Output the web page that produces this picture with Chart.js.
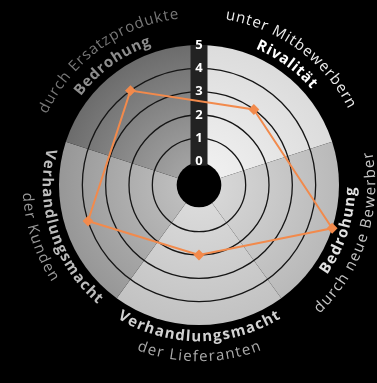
<!DOCTYPE html>
<html>
<head>
<meta charset="utf-8">
<script src="https://cdn.jsdelivr.net/npm/chart.js@4.4.1/dist/chart.umd.min.js"></script>
<style>
  html, body { margin: 0; padding: 0; background: #000; }
  #chart { display: block; }
</style>
</head>
<body>
<canvas id="chart" width="377" height="383"></canvas>
<script>
// Daten: die fünf Wettbewerbskräfte nach Porter
const kategorien = ['Rivalität unter Mitbewerbern', 'Bedrohung durch neue Bewerber', 'Verhandlungsmacht der Lieferanten', 'Verhandlungsmacht der Kunden', 'Bedrohung durch Ersatzprodukte'];
const titel = ['Rivalität', 'Bedrohung', 'Verhandlungsmacht', 'Verhandlungsmacht', 'Bedrohung'];
const untertitel = ['unter Mitbewerbern', 'durch neue Bewerber', 'der Lieferanten', 'der Kunden', 'durch Ersatzprodukte'];
const werte = [3, 5, 2, 4, 4];
const tickLabels = ['0', '1', '2', '3', '4', '5'];

// Farben der Segmente (innen -> außen) und der Beschriftung
const segmentInnen = ['#efefef', '#d6d6d6', '#dadada', '#bdbdbd', '#a2a2a2'];
const segmentAussen = ['#dcdcdc', '#b9b9b9', '#c2c2c2', '#979797', '#6c6c6c'];
const titelFarbe = ['#ffffff', '#e2e2e2', '#d2d2d2', '#bdbdbd', '#8e8e8e'];
const untertitelFarbe = ['#ececec', '#c6c6c6', '#ababab', '#9a9a9a', '#777777'];
const unten = [false, true, true, true, false];

// Text entlang eines Kreisbogens
function bogenText(ctx, text, cx, cy, radius, mitte, umgedreht, abstand) {
    const zeichen = [...text];
    const breiten = zeichen.map(z => ctx.measureText(z).width);
    const gesamt = breiten.reduce((a, b) => a + b, 0) + abstand * (zeichen.length - 1);
    const dir = umgedreht ? -1 : 1;
    let a = mitte - dir * gesamt / (2 * radius);
    zeichen.forEach((z, k) => {
        const w = breiten[k];
        const ac = a + dir * w / (2 * radius);
        ctx.save();
        ctx.translate(cx + radius * Math.cos(ac), cy + radius * Math.sin(ac));
        ctx.rotate(ac + (umgedreht ? -Math.PI / 2 : Math.PI / 2));
        ctx.fillText(z, 0, 0);
        ctx.restore();
        a += dir * (w + abstand) / radius;
    });
}

const fuenfKraefte = {
    id: 'fuenfKraefte',
    beforeDraw(chart) {
        const { ctx } = chart;
        const r = chart.scales.r;
        const cx = r.xCenter, cy = r.yCenter;
        const aussen = r.getDistanceFromCenterForValue(r.max);
        const innen = r.getDistanceFromCenterForValue(0);
        const schritt = 2 * Math.PI / kategorien.length;

        ctx.save();
        ctx.fillStyle = '#000';
        ctx.fillRect(0, 0, chart.width, chart.height);

        kategorien.forEach((k, i) => {
            const mitte = r.getIndexAngle(i) - Math.PI / 2;
            const grad = ctx.createRadialGradient(cx, cy, innen, cx, cy, aussen);
            grad.addColorStop(0, segmentInnen[i]);
            grad.addColorStop(1, segmentAussen[i]);
            ctx.fillStyle = grad;
            ctx.beginPath();
            ctx.moveTo(cx, cy);
            ctx.arc(cx, cy, aussen, mitte - schritt / 2, mitte + schritt / 2);
            ctx.closePath();
            ctx.fill();
        });

        // Loch in der Mitte
        ctx.fillStyle = '#000';
        ctx.beginPath();
        ctx.arc(cx, cy, innen - 1, 0, 2 * Math.PI);
        ctx.fill();
        ctx.restore();
    },
    beforeDatasetsDraw(chart) {
        const { ctx } = chart;
        const r = chart.scales.r;
        const cx = r.xCenter, cy = r.yCenter;
        const aussen = r.getDistanceFromCenterForValue(r.max);
        const innen = r.getDistanceFromCenterForValue(0);

        ctx.save();
        ctx.fillStyle = '#222';
        ctx.fillRect(cx - 8.5, cy - aussen, 17, aussen - innen + 4);

        ctx.fillStyle = '#fff';
        ctx.font = 'bold 13px "Open Sans"';
        ctx.textAlign = 'center';
        ctx.textBaseline = 'middle';
        tickLabels.forEach(t => {
            const d = r.getDistanceFromCenterForValue(Number(t));
            ctx.fillText(t, cx, cy - d);
        });
        ctx.restore();
    },
    afterDraw(chart) {
        const { ctx } = chart;
        const r = chart.scales.r;
        const cx = r.xCenter, cy = r.yCenter;

        ctx.save();
        ctx.textAlign = 'center';
        ctx.textBaseline = 'middle';
        kategorien.forEach((k, i) => {
            const mitte = r.getIndexAngle(i) - Math.PI / 2;
            ctx.font = 'bold 15px "Open Sans"';
            ctx.fillStyle = titelFarbe[i];
            bogenText(ctx, titel[i], cx, cy, 152, mitte, unten[i], 1);
            ctx.font = '15px "Open Sans"';
            ctx.fillStyle = untertitelFarbe[i];
            bogenText(ctx, untertitel[i], cx, cy, 172, mitte, unten[i], 1.2);
        });
        ctx.restore();
    }
};

new Chart(document.getElementById('chart'), {
    type: 'radar',
    data: {
        labels: kategorien,
        datasets: [{
            data: werte,
            borderColor: '#f28a4c',
            backgroundColor: '#f28a4c',
            borderWidth: 2,
            fill: false,
            pointStyle: 'rectRot',
            pointRadius: 4,
            pointHoverRadius: 4
        }]
    },
    options: {
        responsive: false,
        animation: false,
        layout: { padding: { left: 59, right: 38, top: 45, bottom: 58 } },
        plugins: {
            legend: { display: false },
            tooltip: { enabled: false }
        },
        scales: {
            r: {
                min: -1,
                max: 5,
                startAngle: 36,
                ticks: { stepSize: 1, display: false },
                angleLines: { display: false },
                pointLabels: { display: false },
                grid: {
                    circular: true,
                    lineWidth: 1.3,
                    color: ctx => (ctx.tick && ctx.tick.value >= 1 && ctx.tick.value <= 4) ? '#151515' : 'transparent'
                }
            }
        }
    },
    plugins: [fuenfKraefte]
});
</script>
</body>
</html>
